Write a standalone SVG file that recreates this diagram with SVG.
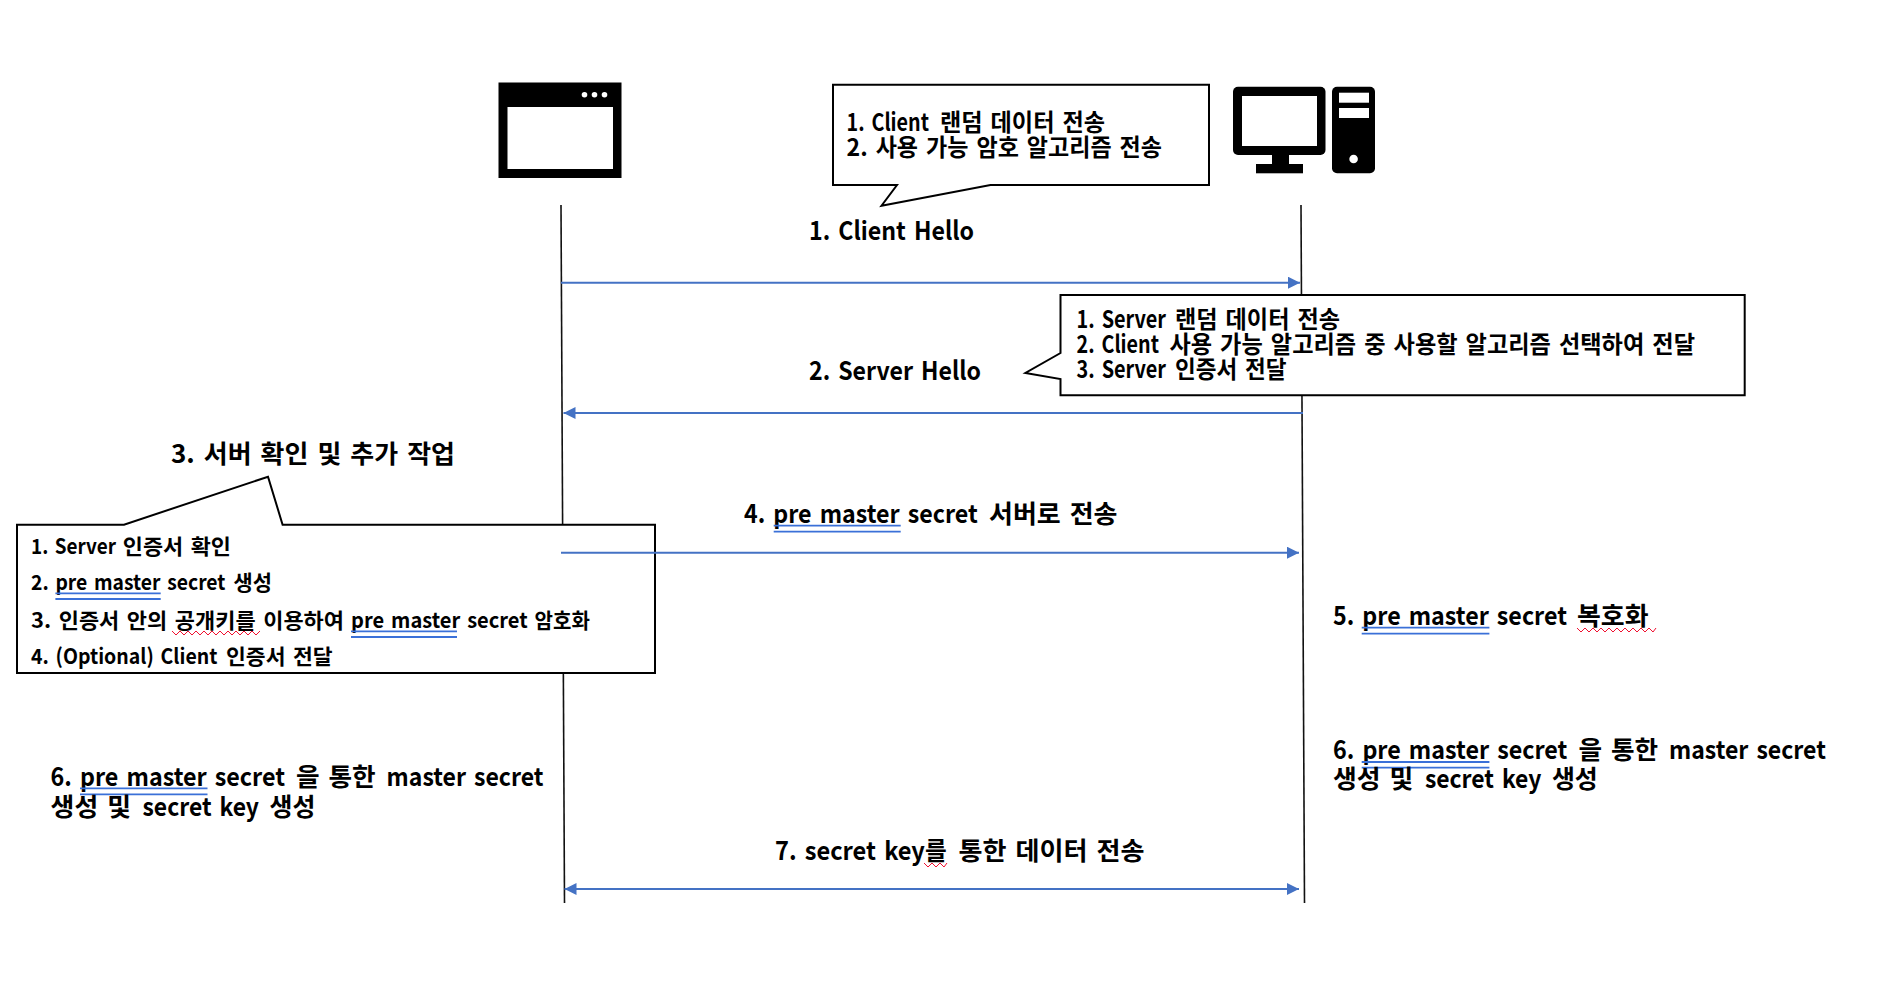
<svg xmlns="http://www.w3.org/2000/svg" width="1894" height="992" viewBox="0 0 1894 992">
<style>
text{font-family:"Noto Sans CJK KR","Noto Sans",sans-serif;font-weight:700;fill:#000;font-size:25.5px;word-spacing:.12em}
tspan{font-size:inherit}
.m{font-size:24px}
.s{font-size:21px}
.box{fill:#fff;stroke:#000;stroke-width:2}
.life{fill:none;stroke:#111;stroke-width:1.6}
.msg{fill:none;stroke:#4472C4;stroke-width:2}
.dbl{fill:none;stroke:#3A70D8;stroke-width:1.8}
.wav{fill:none;stroke:#F01030;stroke-width:1}
</style>
<defs>
<marker id="end" markerUnits="userSpaceOnUse" markerWidth="12" markerHeight="12" refX="12" refY="6" orient="auto"><path d="M0 0L12 6L0 12Z" fill="#4472C4"/></marker>
<marker id="start" markerUnits="userSpaceOnUse" markerWidth="12" markerHeight="12" refX="0" refY="6" orient="auto"><path d="M12 0L0 6L12 12Z" fill="#4472C4"/></marker>
</defs>
<rect width="1894" height="992" fill="#fff"/>

<g id="lifelines">
<path class="life" d="M561 205L564.500 903"/>
<path class="life" d="M1301 205L1304.500 903"/>
</g>

<g id="client-icon">
<rect x="498.500" y="82.500" width="123" height="95.500" fill="#000"/>
<rect x="507.500" y="107" width="105.500" height="62" fill="#fff"/>
<circle cx="584.500" cy="94.700" r="2.800" fill="#fff"/>
<circle cx="594.500" cy="94.700" r="2.800" fill="#fff"/>
<circle cx="604.500" cy="94.700" r="2.800" fill="#fff"/>
</g>

<g id="server-icon">
<rect x="1233" y="86.700" width="92.500" height="68.300" rx="5" fill="#000"/>
<rect x="1242" y="96" width="75" height="50" fill="#fff"/>
<rect x="1272" y="155" width="17" height="10" fill="#000"/>
<rect x="1256" y="164" width="47" height="9.300" fill="#000"/>
<rect x="1332" y="86.700" width="43" height="86.600" rx="5" fill="#000"/>
<rect x="1339" y="92.700" width="30" height="10" fill="#fff"/>
<rect x="1339" y="108" width="30" height="10" fill="#fff"/>
<circle cx="1353.600" cy="159" r="4.300" fill="#fff"/>
</g>

<g id="callout-client">
<path class="box" d="M833 84.700H1209V185H990.500L881.500 205.700L897 185H833Z"/>
<text class="m" y="130.700"><tspan x="846.600" textLength="82.400" lengthAdjust="spacingAndGlyphs">1. Client</tspan> <tspan x="940" textLength="165" lengthAdjust="spacingAndGlyphs">랜덤 데이터 전송</tspan></text>
<text class="m" x="846.600" y="156" textLength="315.400" lengthAdjust="spacingAndGlyphs">2. 사용 가능 암호 알고리즘 전송</text>
</g>

<g id="label-client-hello"><text x="809" y="240" textLength="165" lengthAdjust="spacingAndGlyphs">1. Client Hello</text></g>

<g id="callout-server">
<path class="box" d="M1060.500 295H1744.700V395.300H1060.500V379L1025.400 373L1060.500 353Z"/>
<text class="m" y="327.700"><tspan x="1076.600" textLength="89.400" lengthAdjust="spacingAndGlyphs">1. Server</tspan> <tspan x="1175" textLength="165" lengthAdjust="spacingAndGlyphs">랜덤 데이터 전송</tspan></text>
<text class="m" y="353"><tspan x="1076.600" textLength="82.400" lengthAdjust="spacingAndGlyphs">2. Client</tspan> <tspan x="1169.400" textLength="525.600" lengthAdjust="spacingAndGlyphs">사용 가능 알고리즘 중 사용할 알고리즘 선택하여 전달</tspan></text>
<text class="m" y="378"><tspan x="1076.600" textLength="89.400" lengthAdjust="spacingAndGlyphs">3. Server</tspan> <tspan x="1175" textLength="111.500" lengthAdjust="spacingAndGlyphs">인증서 전달</tspan></text>
</g>

<g id="label-server-hello"><text x="809" y="380" textLength="172" lengthAdjust="spacingAndGlyphs">2. Server Hello</text></g>

<g id="label-step3"><text x="171" y="463" textLength="284" lengthAdjust="spacingAndGlyphs">3. 서버 확인 및 추가 작업</text></g>

<g id="callout-step3">
<path class="box" d="M17 524.700H124L268 476.700L282.600 524.700H655V673H17Z"/>
<text class="s" y="554"><tspan x="31" textLength="85" lengthAdjust="spacingAndGlyphs">1. Server</tspan> <tspan x="122.800" textLength="108.200" lengthAdjust="spacingAndGlyphs">인증서 확인</tspan></text>
<text class="s" y="590"><tspan x="31" textLength="194.500" lengthAdjust="spacingAndGlyphs">2. pre master secret</tspan> <tspan x="233.500" textLength="38.500" lengthAdjust="spacingAndGlyphs">생성</tspan></text>
<path class="dbl" d="M55.400 593.300H160.700M55.400 599H160.700"/>
<text class="s" y="628"><tspan x="31" textLength="313" lengthAdjust="spacingAndGlyphs">3. 인증서 안의 공개키를 이용하여</tspan> <tspan x="351" textLength="239" lengthAdjust="spacingAndGlyphs">pre master secret 암호화</tspan></text>
<path class="dbl" d="M351 631.300H457M351 637H457"/>
<path class="wav" d="M172 631L176 635L180 631L184 635L188 631L192 635L196 631L200 635L204 631L208 635L212 631L216 635L220 631L224 635L228 631L232 635L236 631L240 635L244 631L248 635L252 631L256 635L260 631"/>
<text class="s" y="663.500"><tspan x="31" textLength="186.400" lengthAdjust="spacingAndGlyphs">4. (Optional) Client</tspan> <tspan x="226" textLength="106.600" lengthAdjust="spacingAndGlyphs">인증서 전달</tspan></text>
</g>

<g id="label-step4">
<text y="523"><tspan x="744" textLength="233.800" lengthAdjust="spacingAndGlyphs">4. pre master secret</tspan> <tspan x="989" textLength="128.500" lengthAdjust="spacingAndGlyphs">서버로 전송</tspan></text>
<path class="dbl" d="M773.700 525.700H900.700M773.700 531.700H900.700"/>
</g>

<g id="label-step5">
<text y="625"><tspan x="1333" textLength="234" lengthAdjust="spacingAndGlyphs">5. pre master secret</tspan> <tspan x="1577" textLength="71.500" lengthAdjust="spacingAndGlyphs">복호화</tspan></text>
<path class="dbl" d="M1361.700 627.700H1489.400M1361.700 633.700H1489.400"/>
<path class="wav" d="M1577 628L1581 632L1585 628L1589 632L1593 628L1597 632L1601 628L1605 632L1609 628L1613 632L1617 628L1621 632L1625 628L1629 632L1633 628L1637 632L1641 628L1645 632L1649 628L1653 632L1656 628"/>
</g>

<g id="label-step6-server">
<text y="759"><tspan x="1333" textLength="234.400" lengthAdjust="spacingAndGlyphs">6. pre master secret</tspan> <tspan x="1578.400" textLength="79.700" lengthAdjust="spacingAndGlyphs">을 통한</tspan> <tspan x="1669" textLength="156.900" lengthAdjust="spacingAndGlyphs">master secret</tspan></text>
<path class="dbl" d="M1361.700 762H1489.400M1361.700 767.700H1489.400"/>
<text y="788"><tspan x="1333" textLength="80.400" lengthAdjust="spacingAndGlyphs">생성 및</tspan> <tspan x="1424.900" textLength="116.500" lengthAdjust="spacingAndGlyphs">secret key</tspan> <tspan x="1551.900" textLength="45.900" lengthAdjust="spacingAndGlyphs">생성</tspan></text>
</g>

<g id="label-step6-client">
<text y="786"><tspan x="50.600" textLength="234.400" lengthAdjust="spacingAndGlyphs">6. pre master secret</tspan> <tspan x="296" textLength="79.700" lengthAdjust="spacingAndGlyphs">을 통한</tspan> <tspan x="386.600" textLength="156.900" lengthAdjust="spacingAndGlyphs">master secret</tspan></text>
<path class="dbl" d="M80 788.300H207.500M80 794.300H207.500"/>
<text y="816"><tspan x="50.600" textLength="80.400" lengthAdjust="spacingAndGlyphs">생성 및</tspan> <tspan x="142.500" textLength="116.500" lengthAdjust="spacingAndGlyphs">secret key</tspan> <tspan x="269.500" textLength="45.900" lengthAdjust="spacingAndGlyphs">생성</tspan></text>
</g>

<g id="label-step7">
<text y="860"><tspan x="775" textLength="171.600" lengthAdjust="spacingAndGlyphs">7. secret key를</tspan> <tspan x="958.400" textLength="186.200" lengthAdjust="spacingAndGlyphs">통한 데이터 전송</tspan></text>
<path class="wav" d="M924 863L928 867L932 863L936 867L940 863L944 867L947 863"/>
</g>

<g id="connectors">
<path class="msg" marker-end="url(#end)" d="M561 282.700H1300"/>
<path class="msg" marker-end="url(#end)" d="M1303 413H563.500"/>
<path class="msg" marker-end="url(#end)" d="M561 552.700H1299"/>
<path class="msg" marker-start="url(#start)" marker-end="url(#end)" d="M564.500 889H1299"/>
</g>
</svg>
